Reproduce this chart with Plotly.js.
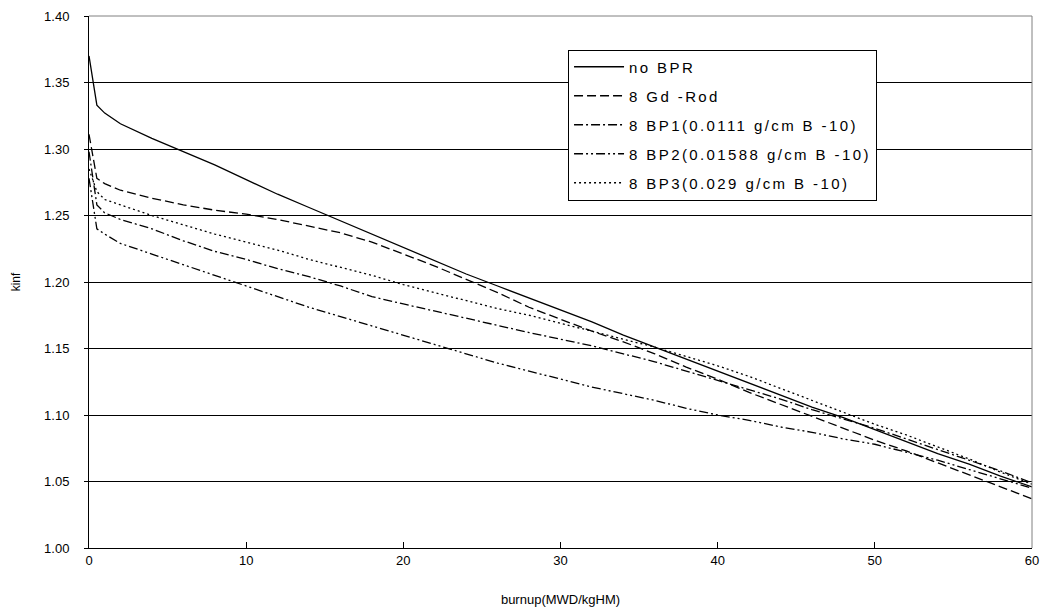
<!DOCTYPE html>
<html>
<head>
<meta charset="utf-8">
<script src="https://cdn.plot.ly/plotly-3.0.1.min.js"></script>
<style>
html,body{margin:0;padding:0;background:#fff;}
#chart{width:1048px;height:615px;}
.legendtext{letter-spacing:2.4px;}
</style>
</head>
<body>
<div id="chart"></div>
<script>
const burnup = [0, 0.5, 1, 2, 4, 6, 8, 10, 12, 14, 16, 18, 20, 22, 24, 26, 28, 30, 32, 34, 36, 38, 40, 42, 44, 46, 48, 50, 52, 54, 56, 58, 60];
const noBPR = [1.370, 1.333, 1.327, 1.319, 1.308, 1.298, 1.288, 1.277, 1.266, 1.256, 1.246, 1.236, 1.226, 1.216, 1.206, 1.197, 1.188, 1.179, 1.170, 1.160, 1.151, 1.142, 1.133, 1.124, 1.115, 1.106, 1.098, 1.089, 1.080, 1.071, 1.063, 1.054, 1.046];
const gdRod = [1.311, 1.278, 1.274, 1.269, 1.263, 1.258, 1.254, 1.251, 1.247, 1.242, 1.237, 1.230, 1.221, 1.212, 1.202, 1.192, 1.181, 1.172, 1.163, 1.155, 1.146, 1.136, 1.127, 1.117, 1.108, 1.099, 1.090, 1.081, 1.073, 1.064, 1.055, 1.046, 1.037];
const bp1 = [1.298, 1.258, 1.252, 1.247, 1.240, 1.231, 1.223, 1.217, 1.210, 1.204, 1.197, 1.189, 1.1835, 1.178, 1.173, 1.167, 1.162, 1.157, 1.152, 1.146, 1.140, 1.133, 1.126, 1.119, 1.112, 1.104, 1.097, 1.090, 1.082, 1.074, 1.066, 1.058, 1.049];
const bp2 = [1.278, 1.240, 1.236, 1.229, 1.221, 1.213, 1.205, 1.197, 1.189, 1.181, 1.174, 1.167, 1.160, 1.153, 1.146, 1.139, 1.133, 1.127, 1.121, 1.116, 1.111, 1.105, 1.100, 1.096, 1.091, 1.087, 1.082, 1.078, 1.072, 1.066, 1.059, 1.052, 1.045];
const bp3 = [1.285, 1.268, 1.262, 1.258, 1.250, 1.243, 1.236, 1.230, 1.224, 1.217, 1.211, 1.205, 1.198, 1.192, 1.186, 1.180, 1.175, 1.169, 1.163, 1.157, 1.151, 1.144, 1.137, 1.129, 1.120, 1.111, 1.102, 1.093, 1.085, 1.076, 1.067, 1.057, 1.048];
const seriesNames = ["no BPR", "8 Gd -Rod", "8 BP1(0.0111 g/cm B -10)", "8 BP2(0.01588 g/cm B -10)", "8 BP3(0.029 g/cm B -10)"];
const yTicks = [1.00, 1.05, 1.10, 1.15, 1.20, 1.25, 1.30, 1.35, 1.40];
const xTicks = [0, 10, 20, 30, 40, 50, 60];

const allY = [noBPR, gdRod, bp1, bp2, bp3];
const dashes = ["solid", "9px,4px", "9px,3px,2px,3px", "9px,3px,2px,3px,2px,3px", "2px,3px"];
const traces = allY.map((ys, i) => ({
  x: burnup, y: ys, name: seriesNames[i], type: "scatter", mode: "lines",
  legendgroup: "g" + i,
  line: {color: "#000", width: 1.3, dash: dashes[i]}
}));

const layout = {
  width: 1048, height: 615,
  margin: {l: 89, r: 16, t: 16, b: 67},
  paper_bgcolor: "#fff", plot_bgcolor: "#fff",
  font: {family: "Liberation Sans, Arial, sans-serif", size: 13, color: "#000"},
  showlegend: true,
  legend: {
    x: 0.508, y: 0.937, xanchor: "left", yanchor: "top",
    bgcolor: "#fff", bordercolor: "#000", borderwidth: 1,
    font: {size: 15, family: "Liberation Sans, Arial, sans-serif"},
    tracegroupgap: 6.5, itemwidth: 50
  },
  xaxis: {
    range: [0, 60], tickvals: xTicks, ticktext: xTicks.map(String),
    showgrid: false, zeroline: false,
    showline: true, linecolor: "#000", linewidth: 1, mirror: false,
    ticks: "inside", ticklen: 6, tickcolor: "#000",
    title: {text: "burnup(MWD/kgHM)", font: {size: 13}, standoff: 28},
    tickfont: {size: 13}
  },
  yaxis: {
    range: [1.00, 1.40], tickvals: yTicks, ticktext: yTicks.map(v => v.toFixed(2)),
    showgrid: true, gridcolor: "#000", gridwidth: 1, zeroline: false,
    showline: true, linecolor: "#000", linewidth: 1,
    ticks: "outside", ticklen: 4, tickcolor: "#000",
    ticklabelstandoff: 12,
    title: {text: "kinf", font: {size: 12}, standoff: 20},
    tickfont: {size: 13}
  },
  shapes: [
    {type: "line", xref: "paper", yref: "paper", x0: 0, x1: 1, y0: 1, y1: 1, line: {color: "#808080", width: 1}},
    {type: "line", xref: "paper", yref: "paper", x0: 1, x1: 1, y0: 0, y1: 1, line: {color: "#808080", width: 1}}
  ]
};

Plotly.newPlot("chart", traces, layout, {displayModeBar: false, staticPlot: true});
</script>
</body>
</html>
